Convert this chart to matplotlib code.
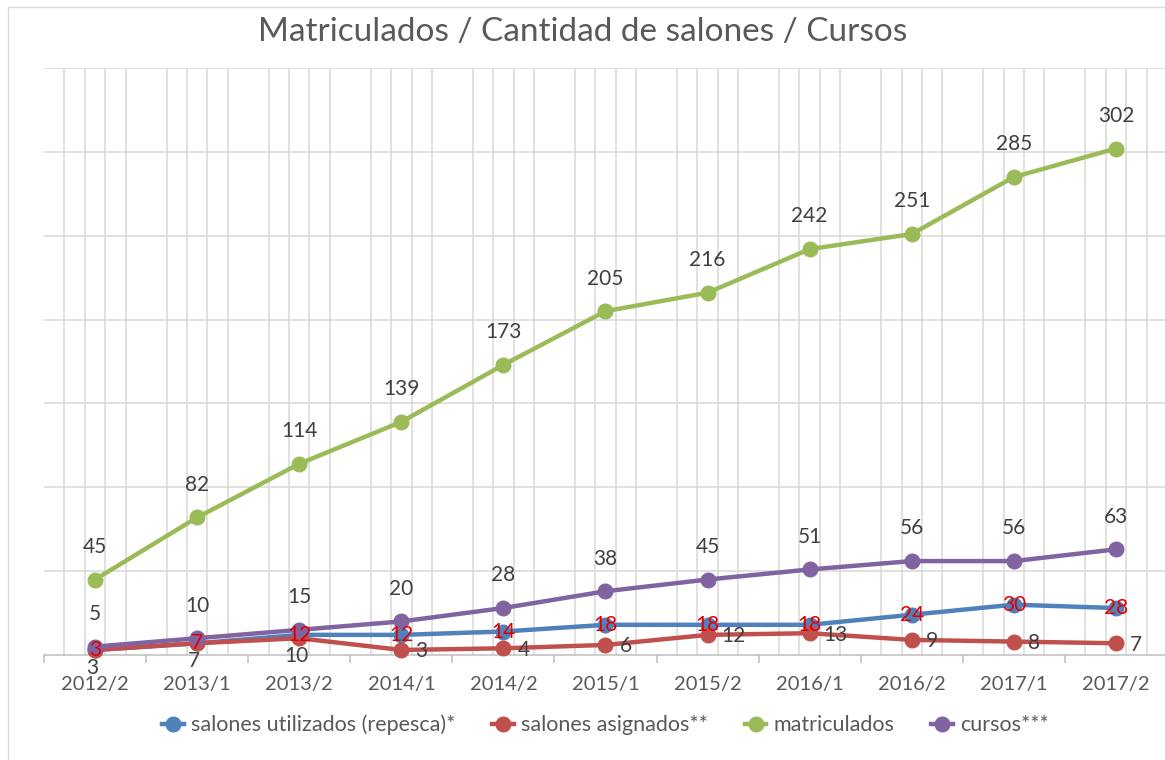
import matplotlib
matplotlib.use("Agg")
import matplotlib.pyplot as plt
import numpy as np
from matplotlib.lines import Line2D
from matplotlib.patches import Rectangle

periods = ["2012/2", "2013/1", "2013/2", "2014/1", "2014/2", "2015/1",
           "2015/2", "2016/1", "2016/2", "2017/1", "2017/2"]
salones_utilizados = [3, 7, 12, 12, 14, 18, 18, 18, 24, 30, 28]
salones_asignados = [3, 7, 10, 3, 4, 6, 12, 13, 9, 8, 7]
matriculados = [45, 82, 114, 139, 173, 205, 216, 242, 251, 285, 302]
cursos = [5, 10, 15, 20, 28, 38, 45, 51, 56, 56, 63]
series_names = ["salones utilizados (repesca)*", "salones asignados**",
                "matriculados", "cursos***"]

plt.rcParams['font.family'] = ['Lato', 'DejaVu Sans']

W, H = 1165, 760
fig = plt.figure(figsize=(W / 100, H / 100), dpi=100)
ax = fig.add_axes([44 / W, 1 - 655 / H, (1167 - 44) / W, (655 - 68) / H])

n = len(periods)
x = np.arange(n)
ax.set_xlim(-0.5, n - 0.5)
ax.set_ylim(0, 350)

grid_c = "#D9D9D9"
text_c = "#595959"
lab_c = "#404040"

# horizontal gridlines
for yv in range(50, 351, 50):
    ax.axhline(yv, color=grid_c, lw=1.1, zorder=0)
# vertical minor gridlines
for i in range(n):
    for d in (-0.3, -0.1, 0.1, 0.3):
        ax.axvline(i + d, color=grid_c, lw=1.1, zorder=0)

for s in ax.spines.values():
    s.set_visible(False)
ax.axhline(0, color="#BFBFBF", lw=1.1, zorder=1, clip_on=False)

ax.set_yticks([])
ax.set_xticks(x)
ax.set_xticklabels(periods, fontsize=14.5, color=text_c)
ax.tick_params(axis="x", which="major", length=0, pad=15)
ax.set_xticks(np.arange(-0.5, n, 1.0), minor=True)
ax.tick_params(axis="x", which="minor", length=6, color="#BFBFBF", width=1.1)

colors = ["#4F81BD", "#C0504D", "#9BBB59", "#8064A2"]
data = [salones_utilizados, salones_asignados, matriculados, cursos]
for k, (vals, c) in enumerate(zip(data, colors)):
    ax.plot(x, vals, color=c, lw=3.2, marker="o", ms=10.5, zorder=3 + k,
            solid_capstyle="round", clip_on=False)

lab_fs = 15
# matriculados & cursos labels above
for vals in (matriculados, cursos):
    for xi, v in zip(x, vals):
        ax.annotate(str(v), (xi, v), xytext=(0, 23.5), textcoords="offset points",
                    ha="center", va="center", fontsize=lab_fs, color=lab_c, zorder=10)
# salones utilizados labels centred, red
for xi, v in zip(x, salones_utilizados):
    ax.annotate(str(v), (xi, v), xytext=(0, 0), textcoords="offset points",
                ha="center", va="center", fontsize=lab_fs, color="#E00000", zorder=11)
# salones asignados labels: below for first three, right for the rest
for i, (xi, v) in enumerate(zip(x, salones_asignados)):
    if i < 3:
        ax.annotate(str(v), (xi, v), xytext=(-2, -13), textcoords="offset points",
                    ha="center", va="center", fontsize=lab_fs, color=lab_c, zorder=10)
    else:
        ax.annotate(str(v), (xi, v), xytext=(10, -1), textcoords="offset points",
                    ha="left", va="center", fontsize=lab_fs, color=lab_c, zorder=10)

fig.text(0.5, 1 - 32 / H, "Matriculados / Cantidad de salones / Cursos",
         ha="center", va="center", fontsize=24, color=text_c)

handles = [Line2D([], [], color=c, lw=3.2, marker="o", ms=10.5) for c in colors]
leg = fig.legend(handles, series_names, loc="center", bbox_to_anchor=(0.52, 1 - 725 / H),
                 ncol=4, frameon=False, fontsize=15.5, handlelength=1.0,
                 handletextpad=0.35, columnspacing=1.7)
for t in leg.get_texts():
    t.set_color(text_c)

fig.add_artist(Rectangle((8 / W, -0.1), 1.2, 1 - 7 / H + 0.1, fill=False,
                         edgecolor=grid_c, lw=1.0, transform=fig.transFigure))

fig.savefig("out.png", dpi=100, facecolor="white")
